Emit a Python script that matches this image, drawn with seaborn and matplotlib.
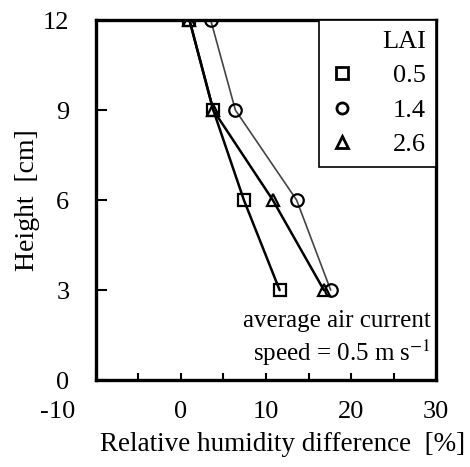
import numpy as np
import pandas as pd
import matplotlib
matplotlib.use("Agg")
import matplotlib.pyplot as plt
import matplotlib.transforms as mtransforms
from matplotlib.lines import Line2D
import seaborn as sns

# data
height = [12, 9, 6, 3]
lai_labels = ["0.5", "1.4", "2.6"]
rh_lai05 = [1.0, 3.8, 7.4, 11.6]
rh_lai14 = [3.5, 6.4, 13.6, 17.6]
rh_lai26 = [1.0, 3.8, 10.8, 16.8]

sns.set_style("ticks", {"axes.edgecolor": "black", "text.color": "black",
                        "xtick.color": "black", "ytick.color": "black",
                        "axes.labelcolor": "black"})
plt.rcParams['font.family'] = ['Liberation Serif', 'DejaVu Serif']
plt.rcParams['mathtext.fontset'] = 'stix'
plt.rcParams['axes.unicode_minus'] = False

df = pd.concat([
    pd.DataFrame({"rh": rh_lai05, "h": height, "lai": "0.5"}),
    pd.DataFrame({"rh": rh_lai14, "h": height, "lai": "1.4"}),
    pd.DataFrame({"rh": rh_lai26, "h": height, "lai": "2.6"}),
])

fig = plt.figure(figsize=(4.70, 4.67), dpi=100)
ax = fig.add_axes([0.204, 0.186, 0.724, 0.771])

markers = {"0.5": "s", "1.4": "o", "2.6": "^"}
lws = {"0.5": 1.8, "1.4": 1.2, "2.6": 1.8}
cols = {"0.5": "black", "1.4": "#444444", "2.6": "black"}
for lab in lai_labels:
    sub = df[df["lai"] == lab]
    sns.lineplot(data=sub, x="rh", y="h", sort=False, ax=ax, color=cols[lab],
                 lw=lws[lab], marker=markers[lab], markersize=9,
                 markerfacecolor="none", markeredgecolor="black",
                 markeredgewidth=1.6, legend=False, estimator=None)

ax.set_xlim(-10, 30)
ax.set_ylim(0, 12)
ax.set_xticks([-10, 0, 10, 20, 30])
ax.set_xticks([-5, 5, 15, 25], minor=True)
ax.set_yticks([0, 3, 6, 9, 12])
ax.tick_params(direction="in", width=1.5, labelsize=19)
ax.tick_params(axis="x", which="both", direction="in", length=5, width=1.5, pad=15)
ax.tick_params(axis="y", length=8, pad=19)
for s in ax.spines.values():
    s.set_linewidth(2.4)
    s.set_visible(True)

# the -10 label sits to the left of its tick in the original
first = ax.get_xticklabels()[0]
first.set_transform(first.get_transform() +
                    mtransforms.ScaledTranslation(-0.38, 0, fig.dpi_scale_trans))

ax.set_xlabel("Relative humidity difference  [%]", fontsize=19.5)
ax.xaxis.set_label_coords(0.55, -0.145)
ax.set_ylabel("Height  [cm]", fontsize=20)
ax.yaxis.set_label_coords(-0.165, 0.5)

handles = [Line2D([], [], ls="none", marker=markers[l], markersize=8,
                  markerfacecolor="none", markeredgecolor="black",
                  markeredgewidth=2.0) for l in lai_labels]
leg = ax.legend(handles, lai_labels, title="LAI", loc="upper right",
                fontsize=19, title_fontsize=19, borderaxespad=0,
                fancybox=False, edgecolor="black", framealpha=1,
                handlelength=1.0, handletextpad=1.4, labelspacing=0.42,
                borderpad=0.4)
leg._legend_box.align = "right"
leg.get_frame().set_linewidth(1.2)

ax.text(0.985, 0.035, "average air current\nspeed = 0.5 m s$^{-1}$",
        transform=ax.transAxes, ha="right", va="bottom", fontsize=18,
        linespacing=1.2)

fig.savefig("out.png", dpi=100)
